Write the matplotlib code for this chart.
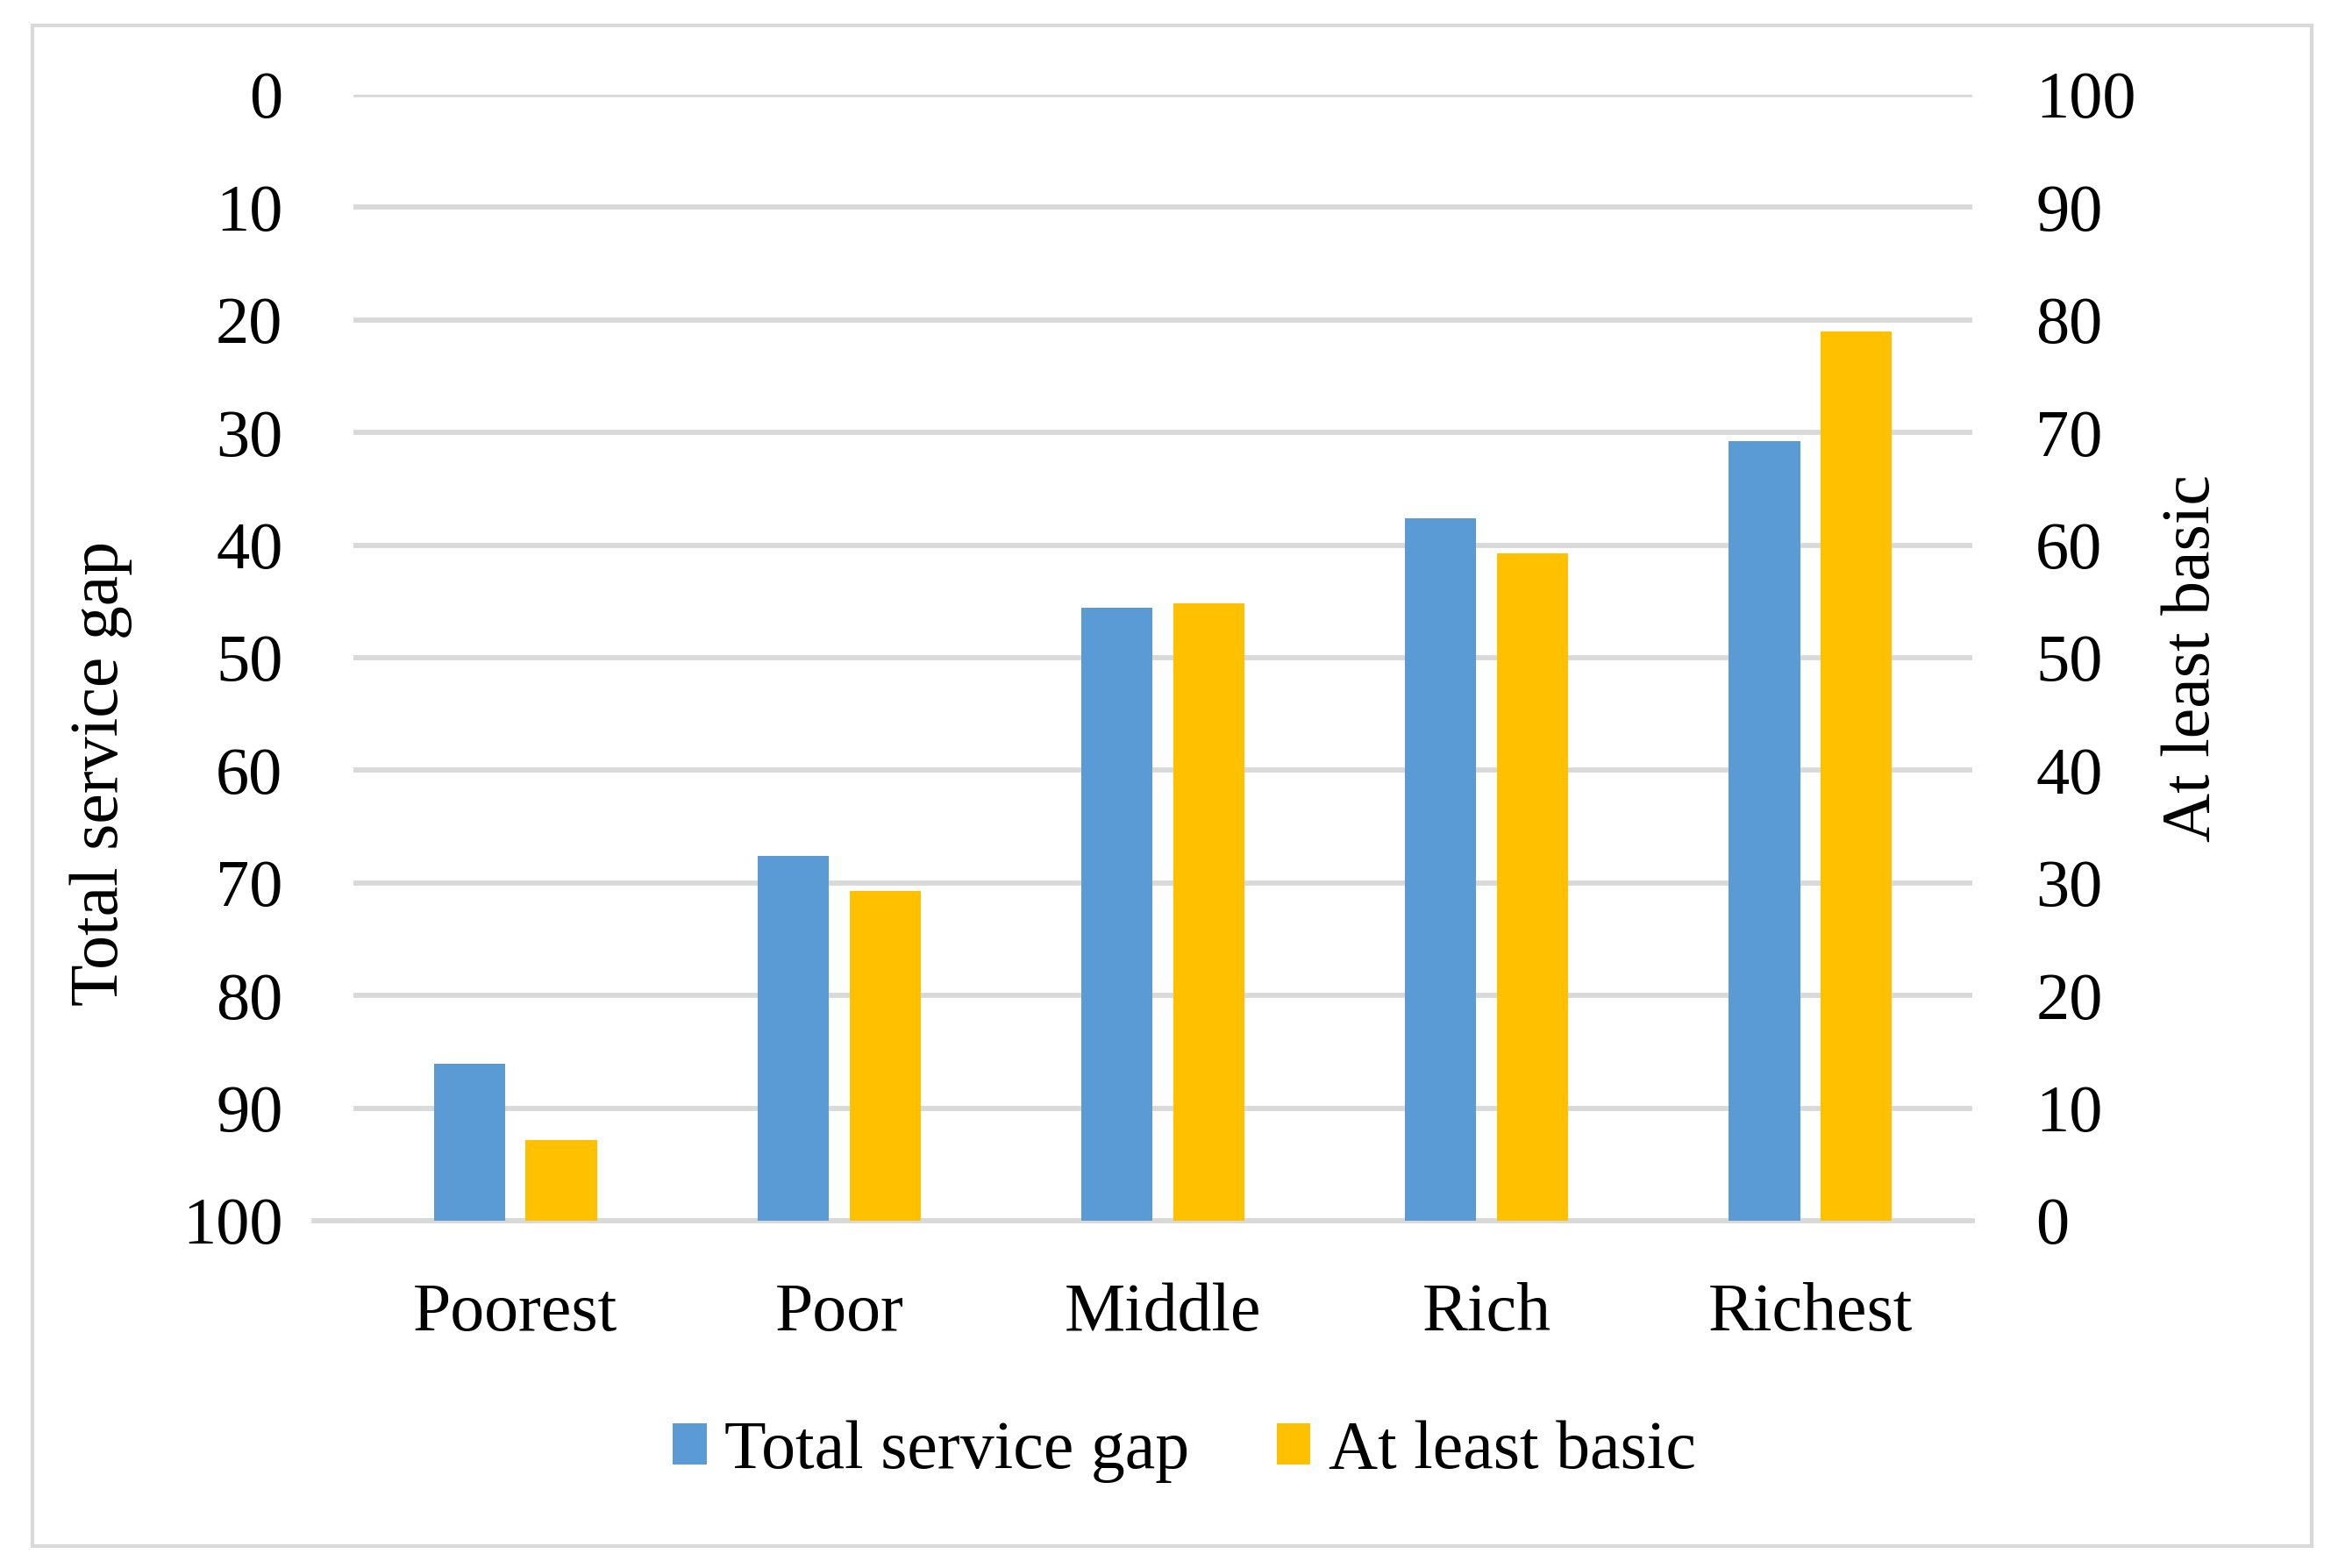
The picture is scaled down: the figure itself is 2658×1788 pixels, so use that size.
import matplotlib.pyplot as plt
import numpy as np

categories = ["Poorest", "Poor", "Middle", "Rich", "Richest"]
serviceGap = [86.1, 67.6, 45.6, 37.6, 30.8]
atLeastBasic = [7.2, 29.3, 54.8, 59.3, 79.0]
gapTicks = list(range(0, 101, 10))
basicTicks = list(range(0, 101, 10))

blue = "#5B9BD5"
yellow = "#FFC000"
gridColor = "#D9D9D9"

plt.rcParams['font.family'] = ['Liberation Serif', 'DejaVu Serif']

fig = plt.figure(figsize=(13.29, 8.94), dpi=200)
ax = fig.add_axes([0.1516, 0.2215, 0.6945, 0.7181])
ax2 = ax.twinx()

x = np.arange(len(categories))
barWidth = 0.22
offset = 0.142

# left axis is inverted, bars grow up from 100
gapBars = ax.bar(x - offset, np.array(serviceGap) - 100, bottom=100, width=barWidth,
                 color=blue, label="Total service gap", zorder=3)
basicBars = ax2.bar(x + offset, atLeastBasic, width=barWidth,
                    color=yellow, label="At least basic", zorder=3)

ax.set_xlim(-0.5, 4.5)
ax.set_ylim(100, 0)
ax2.set_ylim(0, 100)
ax.set_yticks(gapTicks)
ax2.set_yticks(basicTicks)

ax.set_axisbelow(True)
ax.yaxis.grid(True, color=gridColor, lw=2.1)
ax.plot([-0.5 - 0.122, 4.5], [100, 100], color=gridColor, lw=2.1, clip_on=False, zorder=2)

for a in (ax, ax2):
    for s in a.spines.values():
        s.set_visible(False)

ax.tick_params(axis='y', length=0, pad=29, labelsize=27.5)
ax2.tick_params(axis='y', length=0, pad=26, labelsize=27.5)
ax.set_xticks(x)
ax.set_xticklabels(categories)
ax.tick_params(axis='x', length=0, pad=25.5, labelsize=28)

fig.text(0.0433, 0.507, "Total service gap", rotation=90, ha='center', va='center', fontsize=28)
fig.text(0.9406, 0.580, "At least basic", rotation=90, ha='center', va='center', fontsize=28)

fig.legend(handles=[gapBars, basicBars], loc='center', bbox_to_anchor=(0.508, 0.074),
           ncol=2, frameon=False, fontsize=28, handlelength=0.5, handleheight=0.55,
           handletextpad=0.26, columnspacing=1.28)

border = plt.Rectangle((0.0139, 0.014), 0.9778, 0.9698, transform=fig.transFigure,
                       fill=False, ec=gridColor, lw=1.5)
fig.patches.append(border)

plt.savefig("out.png", dpi=200)
